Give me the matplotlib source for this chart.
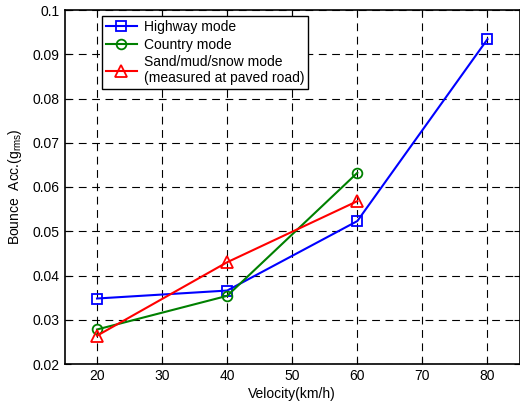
import matplotlib.pyplot as plt

plt.rcParams['font.family'] = ['Liberation Sans', 'DejaVu Sans']
plt.rcParams['mathtext.fontset'] = 'custom'
plt.rcParams['mathtext.rm'] = 'Liberation Sans'
plt.rcParams['mathtext.it'] = 'Liberation Sans'

velocity = [20, 40, 60, 80]
highway = [0.0348, 0.0366, 0.0523, 0.0934]
country_v = [20, 40, 60]
country = [0.0278, 0.0354, 0.0632]
sand_v = [20, 40, 60]
sand = [0.0264, 0.0430, 0.0568]

fig = plt.figure(figsize=(5.2, 4.04), dpi=100)
ax = fig.add_axes([64.5 / 520, 40 / 404, 455.5 / 520, 354 / 404])

ax.plot(velocity, highway, color='blue', marker='s', ms=7, mfc='none', mew=1.3, lw=1.5, label='Highway mode')
ax.plot(country_v, country, color='green', marker='o', ms=7, mfc='none', mew=1.3, lw=1.5, label='Country mode')
ax.plot(sand_v, sand, color='red', marker='^', ms=8, mfc='none', mew=1.3, lw=1.5,
        label='Sand/mud/snow mode\n(measured at paved road)')

ax.set_xlim(15, 85)
ax.set_ylim(0.02, 0.1)
ax.set_xticks([20, 30, 40, 50, 60, 70, 80])
ax.set_yticks([0.02, 0.03, 0.04, 0.05, 0.06, 0.07, 0.08, 0.09, 0.1])
ax.set_yticklabels(['0.02', '0.03', '0.04', '0.05', '0.06', '0.07', '0.08', '0.09', '0.1'])
ax.grid(True, color='black', ls=(0, (7, 5)), lw=0.8)
ax.tick_params(direction='in', top=True, right=True, labelsize=10, length=4)
for s in ax.spines.values():
    s.set_linewidth(1.2)

ax.set_xlabel('Velocity(km/h)', fontsize=10, labelpad=3)
ax.set_ylabel('Bounce  Acc.(g$_{\\rm rms}$)', fontsize=10, labelpad=6)

leg = ax.legend(loc='upper left', bbox_to_anchor=(0.082, 0.983), borderaxespad=0, fontsize=10,
                fancybox=False, edgecolor='black', framealpha=1, borderpad=0.3, labelspacing=0.25,
                handlelength=2.2, handletextpad=0.5)
leg.get_frame().set_linewidth(1.0)

fig.savefig('out.png', dpi=100)
